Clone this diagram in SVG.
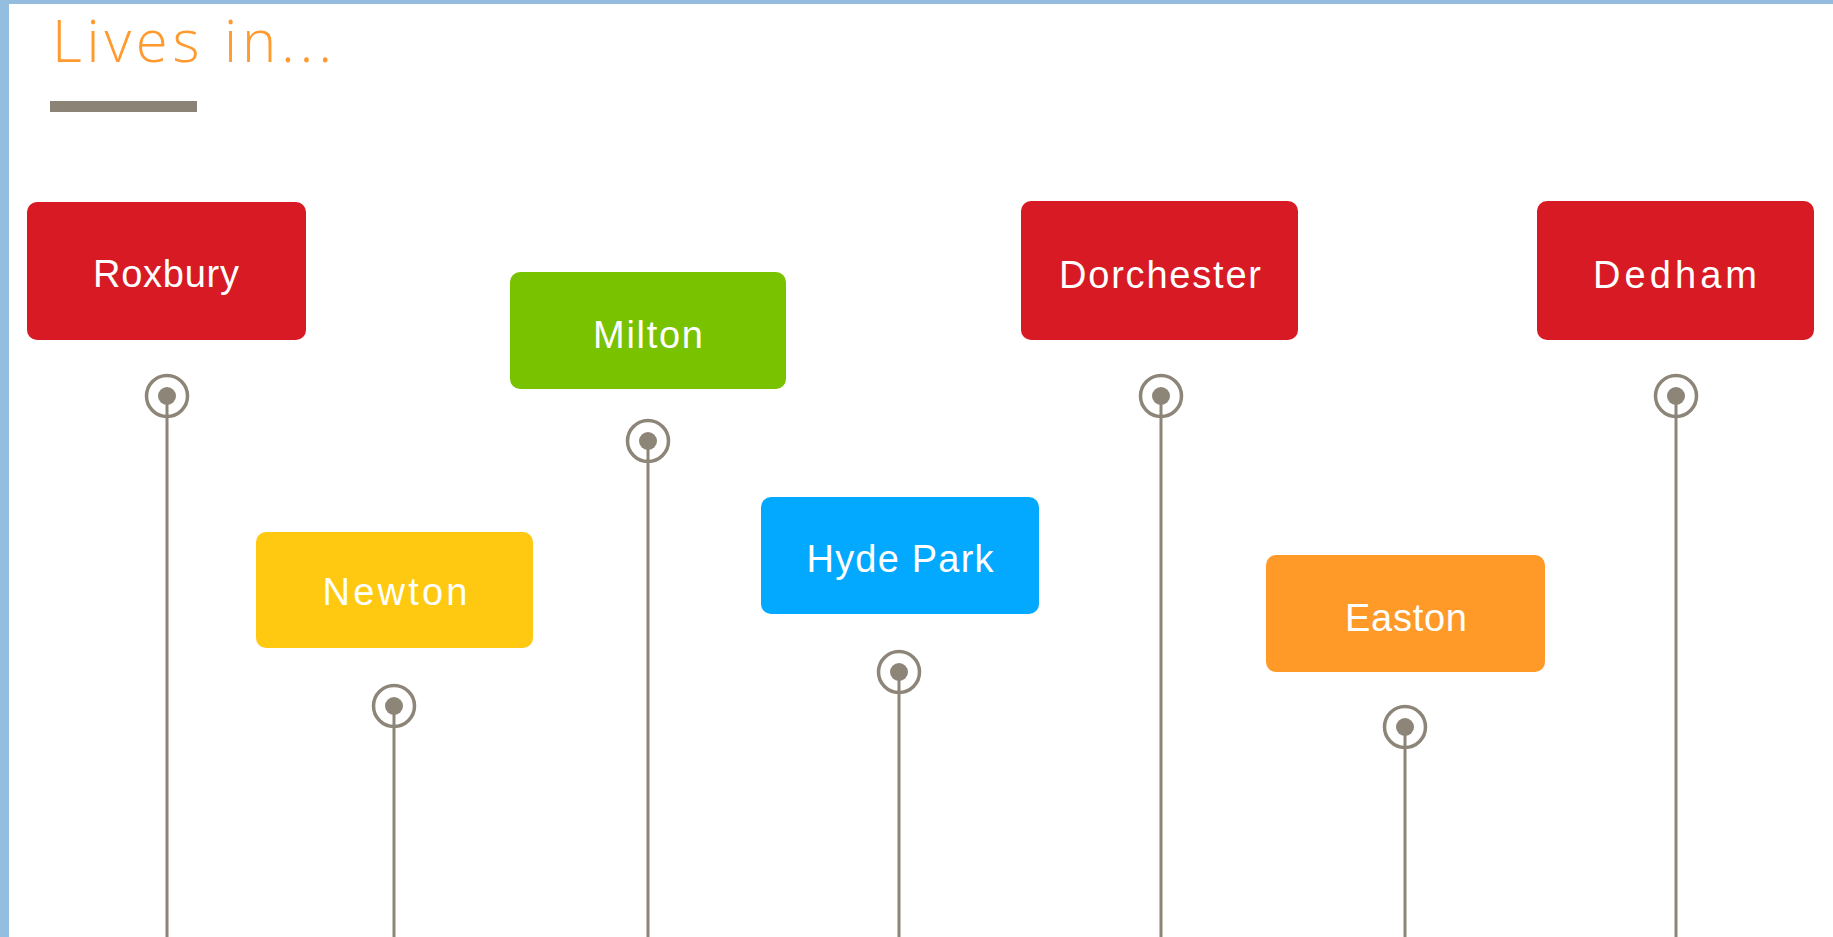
<svg xmlns="http://www.w3.org/2000/svg" width="1833" height="937" viewBox="0 0 1833 937">
<style>
.box{rx:10;ry:10}
.lbl{font-family:"Liberation Sans","DejaVu Sans",sans-serif;font-size:38px;fill:#FFFFFF;text-anchor:middle}
.ring{fill:none;stroke:#8C8578;stroke-width:3.5}
.dot{fill:#8C8578}
.stem{stroke:#8C8578;stroke-width:3;fill:none}
</style>
<rect x="0" y="0" width="1833" height="937" fill="#FFFFFF"/>
<rect x="0" y="0" width="1833" height="4" fill="#93BCDE"/>
<rect x="0" y="0" width="9" height="937" fill="#93BEDF"/>
<g id="title">
<text x="52" y="62" font-family="'Open Sans','Liberation Sans',sans-serif" font-weight="300" font-size="58" fill="#FF9A2E" textLength="280" lengthAdjust="spacing">Lives in...</text>
<rect x="50" y="101" width="147" height="11" fill="#8B8476"/>
</g>
<g id="connectors">
<line class="stem" x1="167" y1="396" x2="167" y2="937"/>
<line class="stem" x1="394" y1="706" x2="394" y2="937"/>
<line class="stem" x1="648" y1="441" x2="648" y2="937"/>
<line class="stem" x1="899" y1="672" x2="899" y2="937"/>
<line class="stem" x1="1161" y1="396" x2="1161" y2="937"/>
<line class="stem" x1="1405" y1="727" x2="1405" y2="937"/>
<line class="stem" x1="1676" y1="396" x2="1676" y2="937"/>
</g>
<g id="markers">
<g id="m-roxbury"><circle class="ring" cx="167" cy="396" r="20.5"/><circle class="dot" cx="167" cy="396" r="9"/></g>
<g id="m-newton"><circle class="ring" cx="394" cy="706" r="20.5"/><circle class="dot" cx="394" cy="706" r="9"/></g>
<g id="m-milton"><circle class="ring" cx="648" cy="441" r="20.5"/><circle class="dot" cx="648" cy="441" r="9"/></g>
<g id="m-hydepark"><circle class="ring" cx="899" cy="672" r="20.5"/><circle class="dot" cx="899" cy="672" r="9"/></g>
<g id="m-dorchester"><circle class="ring" cx="1161" cy="396" r="20.5"/><circle class="dot" cx="1161" cy="396" r="9"/></g>
<g id="m-easton"><circle class="ring" cx="1405" cy="727" r="20.5"/><circle class="dot" cx="1405" cy="727" r="9"/></g>
<g id="m-dedham"><circle class="ring" cx="1676" cy="396" r="20.5"/><circle class="dot" cx="1676" cy="396" r="9"/></g>
</g>
<g id="roxbury"><rect class="box" x="27" y="202" width="279" height="138" fill="#D71A24"/><text class="lbl" x="166" y="287" textLength="146" lengthAdjust="spacing">Roxbury</text></g>
<g id="newton"><rect class="box" x="256" y="532" width="277" height="116" fill="#FEC910"/><text class="lbl" x="395" y="605" textLength="145" lengthAdjust="spacing">Newton</text></g>
<g id="milton"><rect class="box" x="510" y="272" width="276" height="117" fill="#78C200"/><text class="lbl" x="648" y="348" textLength="110" lengthAdjust="spacing">Milton</text></g>
<g id="hydepark"><rect class="box" x="761" y="497" width="278" height="117" fill="#02A9FE"/><text class="lbl" x="900" y="572" textLength="187" lengthAdjust="spacing">Hyde Park</text></g>
<g id="dorchester"><rect class="box" x="1021" y="201" width="277" height="139" fill="#D71A24"/><text class="lbl" x="1160" y="288" textLength="202" lengthAdjust="spacing">Dorchester</text></g>
<g id="easton"><rect class="box" x="1266" y="555" width="279" height="117" fill="#FF9A28"/><text class="lbl" x="1406" y="631" textLength="122" lengthAdjust="spacing">Easton</text></g>
<g id="dedham"><rect class="box" x="1537" y="201" width="277" height="139" fill="#D71A24"/><text class="lbl" x="1675" y="288" textLength="164" lengthAdjust="spacing">Dedham</text></g>
</svg>
